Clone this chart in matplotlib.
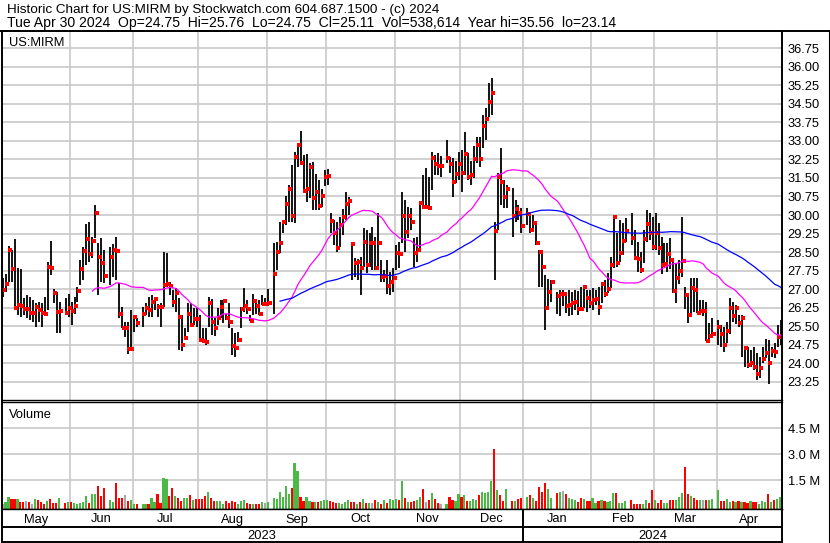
import numpy as np
import pandas as pd
import matplotlib
matplotlib.use('Agg')
import matplotlib.pyplot as plt
from matplotlib.lines import Line2D

plt.rcParams['font.family'] = ['Liberation Sans', 'DejaVu Sans']
plt.rcParams['font.size'] = 9.3

symbol = 'US:MIRM'
title1 = 'Historic Chart for US:MIRM by Stockwatch.com 604.687.1500 - (c) 2024'
title2 = ('Tue Apr 30 2024  Op=24.75  Hi=25.76  Lo=24.75  Cl=25.11  '
          'Vol=538,614  Year hi=35.56  lo=23.14')

# market holidays (no bar drawn, slot left empty)
holidays = ['2023-05-29', '2023-06-19', '2023-07-04', '2023-09-04', '2023-11-23',
            '2023-12-25', '2024-01-01', '2024-01-15', '2024-02-19', '2024-03-29']

# daily high / low / close, one line per month (May 2023 .. Apr 2024)
high = [
    27.43, 27.60, 28.74, 28.58, 29.01, 27.84, 27.81, 26.62, 26.76, 26.66, 26.55, 26.42, 26.49, 26.42, 26.69, 28.11, 28.95, 26.99, 26.89, 26.49, 26.62, 26.82,
    26.49, 26.69, 27.09, 28.18, 28.72, 29.64, 29.73, 29.12, 30.41, 28.88, 29.05, 28.58, 28.72, 28.81, 29.09, 27.23, 26.28, 25.68, 25.68, 26.15, 25.95,
    25.81, 26.28, 26.42, 26.69, 26.76, 26.69, 26.39, 26.42, 28.51, 28.45, 27.30, 26.96, 27.03, 26.62, 25.95, 25.41, 26.42, 26.42, 26.22, 26.22,
    25.95, 25.41, 25.41, 26.69, 26.58, 25.81, 26.22, 26.55, 26.55, 26.01, 26.42, 25.41, 25.24, 25.27, 26.28, 27.03, 26.55, 25.95, 26.82, 26.55, 26.55, 26.76, 26.62,
    26.99, 28.85, 28.92, 29.73, 29.80, 30.78, 31.22, 32.03, 32.57, 32.88, 33.42, 32.43, 32.47, 32.10, 32.16, 31.66, 31.42, 31.05, 31.82, 31.85,
    30.07, 29.80, 29.73, 29.90, 30.25, 30.92, 30.74, 28.85, 28.24, 28.20, 28.30, 29.46, 29.39, 29.26, 29.53, 29.12, 30.07, 28.18, 27.77, 28.18, 27.70, 27.84,
    28.79, 28.92, 30.94, 30.60, 30.34, 30.27, 29.06, 29.12, 30.54, 31.62, 31.89, 31.55, 32.56, 32.43, 32.50, 32.40, 33.04, 32.36, 32.29, 32.20, 32.56,
    32.63, 33.37, 32.50, 32.20, 32.80, 33.17, 33.17, 34.05, 34.32, 35.33, 35.56, 29.73, 31.69, 32.70, 31.40, 31.20, 31.10, 30.60, 30.40, 30.27,
    30.27, 30.13, 30.00, 29.70, 28.58, 28.50, 27.57, 27.40, 27.37, 26.90, 26.97, 26.97, 26.83, 26.97, 26.90, 26.97, 26.93, 27.10, 27.18, 26.97, 26.97,
    27.03, 26.97, 27.10, 27.23, 27.37, 27.64, 28.31, 30.00, 29.26, 29.80, 29.66, 29.86, 30.07, 29.39, 28.92, 28.50, 29.39, 30.20, 30.07, 29.93,
    30.10, 29.66, 29.10, 28.85, 28.85, 29.05, 28.18, 28.04, 28.18, 29.93, 27.10, 26.69, 27.43, 27.43, 27.43, 26.55, 26.55, 26.49, 25.61, 25.81,
    25.75, 25.55, 25.48, 25.68, 26.63, 26.49, 26.35, 25.95, 25.95, 24.67, 24.67, 24.53, 24.67, 24.40, 24.26, 24.67, 25.00, 24.94, 24.67, 24.80, 25.55, 25.76,
]
low = [
    26.69, 26.90, 27.30, 27.30, 26.15, 25.95, 25.88, 25.95, 25.81, 25.74, 25.68, 25.47, 25.68, 25.47, 25.95, 26.15, 27.57, 26.42, 25.23, 25.23, 26.01, 25.88,
    25.54, 26.01, 26.49, 27.16, 27.36, 27.97, 28.11, 28.24, 29.05, 26.76, 27.30, 27.23, 27.16, 27.50, 27.36, 25.81, 25.41, 25.07, 24.39, 24.53, 25.27,
    25.47, 25.47, 25.95, 25.88, 25.88, 26.15, 25.88, 25.47, 26.28, 27.09, 26.76, 26.28, 26.08, 24.53, 24.50, 24.93, 25.27, 25.47, 25.54, 25.47,
    24.93, 24.80, 24.73, 25.47, 25.14, 25.09, 25.54, 25.81, 25.61, 25.74, 25.41, 24.32, 24.26, 24.86, 25.41, 26.08, 26.01, 25.70, 25.95, 26.01, 25.95, 26.35, 26.35,
    26.39, 26.01, 27.77, 28.45, 29.26, 29.60, 29.70, 29.70, 29.69, 31.96, 32.10, 30.95, 30.54, 30.68, 30.20, 30.20, 30.20, 30.34, 31.18, 31.22,
    29.26, 28.80, 28.51, 28.70, 29.20, 29.80, 30.00, 27.36, 27.50, 27.36, 26.76, 27.90, 27.64, 27.90, 27.77, 27.77, 27.90, 27.30, 27.30, 26.80, 26.76, 26.89,
    27.77, 27.84, 28.85, 28.52, 29.06, 29.39, 27.91, 28.11, 28.58, 30.27, 30.27, 30.20, 31.00, 31.62, 31.62, 31.55, 32.09, 31.69, 30.74, 31.30, 31.40,
    30.94, 31.60, 31.40, 31.20, 31.50, 32.10, 31.95, 32.70, 33.04, 33.98, 34.05, 27.37, 29.40, 30.40, 30.30, 30.30, 29.10, 29.70, 29.80, 29.26,
    29.60, 29.26, 29.30, 28.80, 27.10, 27.10, 25.34, 26.30, 26.49, 26.00, 25.90, 26.30, 26.02, 25.90, 25.95, 26.16, 25.97, 26.16, 26.23, 26.09, 26.23,
    26.16, 26.36, 25.95, 26.43, 26.70, 26.83, 27.03, 27.84, 27.91, 28.11, 28.37, 28.92, 28.78, 28.24, 27.71, 27.64, 28.04, 28.90, 28.99, 28.60,
    28.60, 28.40, 27.60, 27.90, 27.70, 27.80, 26.83, 26.42, 27.20, 27.50, 26.20, 25.64, 26.02, 26.09, 26.02, 25.95, 25.90, 24.91, 24.87, 25.07,
    24.73, 24.67, 24.47, 24.80, 25.20, 25.68, 25.60, 25.47, 24.26, 23.86, 23.80, 23.86, 23.73, 23.32, 23.39, 24.00, 24.20, 23.14, 24.26, 24.20, 24.67, 24.75,
]
close = [
    26.96, 27.20, 28.58, 27.82, 26.22, 26.35, 26.31, 26.20, 26.20, 26.04, 26.04, 26.28, 26.15, 26.04, 25.99, 27.91, 27.86, 26.85, 26.08, 26.12, 26.04, 26.24,
    26.12, 26.31, 26.93, 27.82, 28.55, 29.04, 28.41, 28.95, 30.09, 28.31, 28.07, 27.53, 28.31, 28.58, 28.54, 25.99, 25.41, 25.41, 24.57, 24.58, 25.88,
    25.64, 25.99, 26.23, 26.15, 26.49, 26.59, 26.28, 26.26, 27.16, 27.20, 27.12, 26.49, 26.85, 25.88, 24.73, 25.03, 25.99, 25.54, 25.80, 25.77,
    24.93, 24.89, 24.85, 26.45, 25.68, 25.43, 25.81, 26.28, 26.53, 25.85, 25.68, 24.70, 24.62, 24.93, 26.18, 26.31, 26.20, 25.72, 26.53, 26.31, 25.99, 26.39, 26.39,
    26.42, 27.61, 28.51, 28.85, 29.73, 30.43, 31.07, 29.97, 32.36, 32.85, 32.12, 30.97, 31.07, 31.93, 30.70, 30.92, 30.38, 30.78, 31.55, 31.59,
    29.77, 29.28, 28.65, 29.60, 29.93, 30.43, 30.58, 28.81, 28.04, 28.11, 27.86, 28.92, 27.97, 28.88, 28.88, 27.86, 28.88, 27.50, 27.53, 27.12, 27.27, 27.43,
    28.45, 28.41, 29.97, 29.33, 29.97, 29.73, 28.47, 28.58, 30.50, 30.34, 30.34, 30.27, 32.32, 32.08, 32.00, 32.00, 32.32, 32.05, 31.32, 31.65, 32.05,
    31.69, 32.46, 31.55, 31.60, 32.27, 32.83, 32.27, 33.62, 33.89, 34.59, 34.93, 29.37, 31.55, 31.32, 30.74, 31.05, 29.97, 30.24, 30.07, 29.55,
    30.03, 29.39, 29.69, 28.85, 28.51, 27.91, 26.25, 26.90, 27.30, 26.72, 26.79, 26.79, 26.32, 26.36, 26.45, 26.48, 26.20, 26.18, 27.10, 26.63, 26.45,
    26.56, 26.60, 26.26, 27.20, 26.79, 27.00, 27.98, 29.93, 28.07, 28.47, 28.96, 29.35, 29.08, 28.27, 28.22, 27.77, 29.03, 29.62, 29.28, 28.72,
    29.28, 28.68, 27.97, 28.00, 28.41, 28.18, 26.94, 27.46, 27.75, 28.14, 26.76, 25.95, 27.03, 26.96, 26.05, 26.13, 26.13, 24.91, 25.10, 25.20,
    25.45, 25.18, 24.74, 25.32, 26.22, 25.91, 26.22, 25.64, 25.85, 24.60, 23.93, 24.02, 23.86, 23.56, 23.82, 24.17, 24.40, 24.02, 24.51, 24.47, 25.07, 25.11,
]
# daily volume, thousands of shares
volume = [
    150, 260, 540, 400, 420, 420, 230, 270, 310, 230, 100, 400, 380, 270, 150, 280, 420, 170, 200, 460, 170, 240,
    260, 170, 140, 170, 250, 600, 160, 710, 710, 1170, 600, 1060, 350, 270, 1340, 460, 500, 650, 310, 360, 150,
    110, 150, 150, 100, 460, 250, 710, 210, 1650, 1570, 600, 1060, 600, 500, 310, 460, 500, 650, 360, 400,
    400, 400, 600, 800, 460, 330, 330, 330, 150, 280, 210, 280, 270, 140, 300, 360, 190, 130, 130, 100, 140, 270, 200,
    220, 500, 420, 800, 560, 1170, 700, 1060, 2480, 2040, 560, 310, 560, 300, 230, 250, 250, 300, 360, 360,
    300, 230, 170, 170, 150, 230, 360, 270, 230, 150, 230, 400, 170, 170, 170, 360, 230, 130, 360, 210, 420, 360,
    420, 360, 1460, 460, 270, 270, 310, 360, 540, 1000, 270, 350, 790, 420, 200, 100, 150, 540, 350, 310, 710,
    540, 650, 300, 310, 420, 350, 650, 850, 750, 850, 1460, 3300, 940, 670, 310, 1000, 310, 310, 400, 460,
    540, 650, 460, 310, 1100, 850, 1340, 1000, 500, 790, 800, 900, 690, 500, 440, 360, 270, 460, 420, 310, 310,
    460, 170, 310, 350, 310, 270, 320, 770, 770, 210, 210, 310, 360, 150, 150, 100, 150, 350, 190, 940,
    350, 190, 350, 170, 170, 350, 360, 350, 520, 770, 2270, 710, 600, 500, 350, 350, 350, 350, 350, 420,
    940, 310, 310, 420, 230, 310, 230, 330, 230, 230, 210, 310, 270, 230, 150, 310, 230, 710, 230, 350, 420, 539,
]

W, H = 830, 543
def fx(px):
    return px / W
def fy(py):
    return 1 - py / H

start = np.datetime64('2023-05-01')
end = np.datetime64('2024-04-30')
dates = pd.bdate_range('2023-05-01', '2024-04-30')
dates = dates[~dates.isin(pd.to_datetime(holidays))]
d64 = dates.values.astype('datetime64[D]')
x = np.busday_count(start, d64)
nslots = np.busday_count(start, end + 1)

hi = np.array(high)
lo = np.array(low)
cl = np.array(close)
vol = np.array(volume) * 1000.0
ma_fast = pd.Series(cl).rolling(30).mean()
ma_slow = pd.Series(cl).rolling(90).mean()

chg = np.diff(cl, prepend=np.nan)
vcol = np.where(chg > 0, '#4cb848', np.where(chg < 0, '#ff0000', '#a8a8a8'))

# month boundaries: slot of the 1st (weekend rolls back to Friday)
months = pd.date_range('2023-05-01', '2024-04-01', freq='MS')
bounds = [np.busday_count(start, np.busday_offset(np.datetime64(m.date()), 0, roll='backward')) - 0.5
          for m in months[1:]]
edges = [-0.5] + bounds + [nslots - 0.5]
mcent = [(a + b) / 2 for a, b in zip(edges[:-1], edges[1:])]
jan = bounds[list(months[1:].month).index(1)]

fig = plt.figure(figsize=(W / 100, H / 100), dpi=100)
left, right = 1.5, 782.2
grid_c = '#c8c8c8'

# price panel
ax = fig.add_axes([fx(left), fy(400), fx(right - left), (400 - 31) / H])
ax.set_xlim(-0.5, nslots - 0.5)
ax.set_ylim(22.51, 37.45)
yt = np.arange(23.25, 36.76, 0.75)
ax.set_yticks(yt)
ax.set_yticklabels(['%.2f' % v for v in yt])
ax.yaxis.tick_right()
ax.set_xticks(bounds)
ax.tick_params(axis='both', length=0, labelbottom=False, pad=4, labelsize=9.3)
ax.grid(True, color=grid_c, lw=1.2)
ax.set_axisbelow(True)
ax.vlines(x, lo, hi, color='black', lw=1.3)
ax.plot(x + 0.45, cl, ls='none', marker='s', ms=2.2, mfc='red', mec='red', mew=0)
ax.plot(x, ma_fast, color='#ff00ff', lw=0.9)
ax.plot(x, ma_slow, color='#0000ff', lw=0.9)
for s in ax.spines.values():
    s.set_linewidth(1.4)
ax.spines['bottom'].set_linewidth(1.0)

# volume panel
vfloor, vtop = -0.16e6, 6.02e6
axv = fig.add_axes([fx(left), fy(509), fx(right - left), (509 - 402) / H])
axv.set_xlim(-0.5, nslots - 0.5)
axv.set_ylim(vfloor, vtop)
axv.bar(x - 0.15, vol - vfloor, bottom=vfloor, width=0.72, color=vcol, lw=0)
axv.set_yticks([1.5e6, 3.0e6, 4.5e6])
axv.set_yticklabels(['1.5 M', '3.0 M', '4.5 M'])
axv.yaxis.tick_right()
axv.set_xticks(bounds)
axv.tick_params(axis='both', length=0, labelbottom=False, pad=4, labelsize=9.3)
axv.grid(True, color=grid_c, lw=1.2)
axv.set_axisbelow(True)
for s in axv.spines.values():
    s.set_linewidth(1.4)
axv.spines['top'].set_linewidth(1.0)
axv.spines['bottom'].set_linewidth(1.0)

# month / year rows
axl = fig.add_axes([fx(left), fy(541.5), fx(right - left), (541.5 - 509) / H])
axl.set_xlim(-0.5, nslots - 0.5)
axl.set_ylim(0, 32.5)
axl.set_xticks([])
axl.set_yticks([])
for s in axl.spines.values():
    s.set_linewidth(1.4)
axl.spines['top'].set_linewidth(1.0)
axl.axhline(541.5 - 527, color='black', lw=1.4)
axl.plot([jan, jan], [0, 32.5], color='black', lw=1.4)
for c, m in zip(mcent, months):
    axl.text(c, 541.5 - 522.5, m.strftime('%b'), ha='center', va='baseline', fontsize=9.3)
for c, yr in [((-0.5 + jan) / 2, '2023'), ((jan + nslots - 0.5) / 2, '2024')]:
    axl.text(c, 541.5 - 539.3, yr, ha='center', va='baseline', fontsize=9.3)

# header and frame
fig.text(fx(7), fy(13.0), title1, va='baseline', fontsize=9.7)
fig.text(fx(7), fy(27.2), title2, va='baseline', fontsize=10.1)
fig.text(fx(9), fy(46), symbol, va='baseline', fontsize=9.3)
fig.text(fx(9), fy(417.7), 'Volume', va='baseline', fontsize=9.3)
fig.add_artist(Line2D([0, 1], [fy(30.8), fy(30.8)], color='black', lw=1.4))
fig.add_artist(Line2D([fx(828.5), fx(828.5)], [fy(31), 0], color='black', lw=0.8))

fig.savefig('out.png', dpi=100)
